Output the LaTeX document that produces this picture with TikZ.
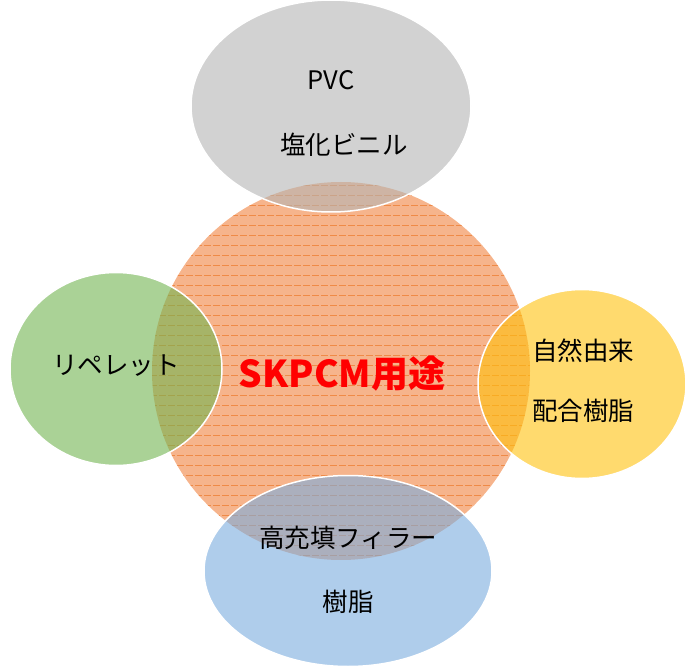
\documentclass[tikz,border=0pt]{standalone}
\usepackage{fontspec}
\setmainfont{Noto Sans CJK JP}
\usepackage{xcolor}
\usetikzlibrary{shapes.geometric}
\usetikzlibrary{positioning}
\definecolor{skorange}{RGB}{246,180,140}
\definecolor{skline}{RGB}{237,125,49}
\definecolor{skgray}{RGB}{180,180,180}
\definecolor{skgreen}{RGB}{113,180,80}
\definecolor{skyellow}{RGB}{255,193,13}
\definecolor{skblue}{RGB}{122,172,222}
\begin{document}
\begin{tikzpicture}[x=1pt,y=-1pt,
    basic/.style={ellipse,draw=white,line width=1.5pt,fill opacity=0.6,inner sep=0pt},
    core/.style={circle,inner sep=0pt,fill=skorange},
    word/.style={font=\fontsize{25.5}{30}\selectfont,text=black,inner sep=1pt},
    title/.style={font=\bfseries\fontsize{37}{40}\selectfont,text=red},
]
\useasboundingbox (0,0) rectangle (686,666);
        \node[core,minimum size=378] (center) at (341,371) {};
        % stripes
        \begin{scope}
            \clip (center.center) circle (189);
            \foreach \y in {185.7,195.7,...,560} {
                \draw[skline,line width=1pt,opacity=0.75,dash pattern=on 7pt off 2pt] (150,\y) -- (532,\y);
            }
        \end{scope}
        \node[basic,fill=skgray,minimum width=280,minimum height=212] (top) at (331,106) {};
        \node[basic,fill=skgreen,minimum width=212,minimum height=193] (left) at (116,369) {};
        \node[basic,fill=skyellow,minimum width=208,minimum height=189] (right) at (582,384) {};
        \node[basic,fill=skblue,minimum width=288,minimum height=191] (bottom) at (348,571) {};
        \node[title] (tc) at (342,374) {SKPCM用途};
        \node[word] (t1) at (331,80) {PVC};
        \node[word] (t2) at (344,145) {塩化ビニル};
        \node[word] (l1) at (116,366) {リペレット};
        \node[word] (r1) at (583,351) {自然由来};
        \node[word] (r2) at (583,411) {配合樹脂};
        \node[word] (b1) at (348,538) {高充填フィラー};
        \node[word] (b2) at (348,602) {樹脂};
\end{tikzpicture}
\end{document}
